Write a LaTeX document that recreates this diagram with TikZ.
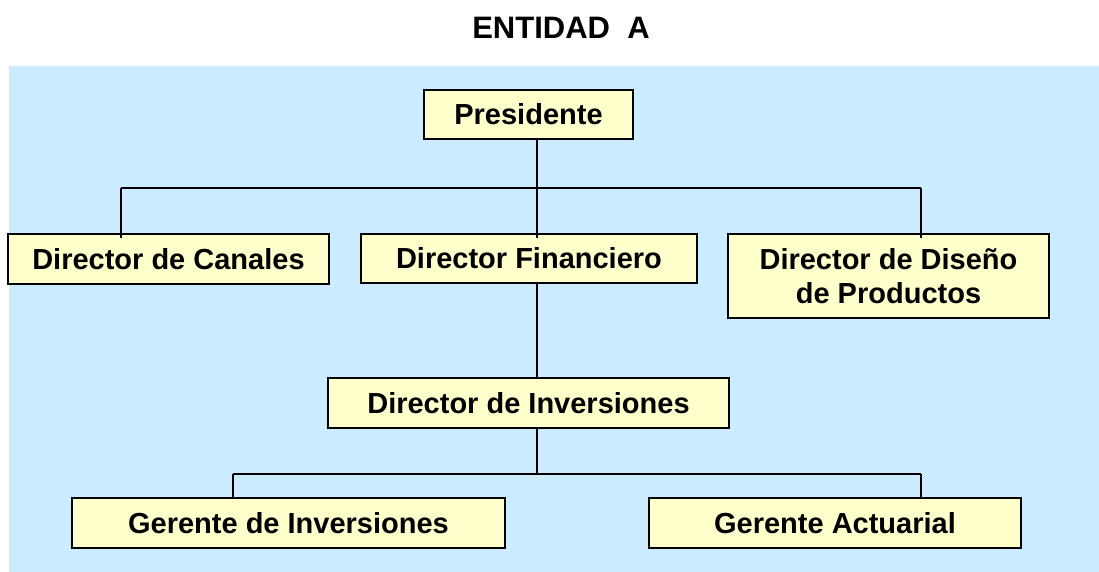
\documentclass[tikz,border=0pt]{standalone}
\usepackage{fontspec}
\setmainfont{Liberation Sans}
\definecolor{bgblue}{RGB}{204,235,255}
\definecolor{boxyellow}{RGB}{255,255,204}
\begin{document}
\begin{tikzpicture}[x=1pt,y=-1pt,
  orgbox/.style={draw=black, line width=2pt, fill=boxyellow, inner sep=0pt,
    align=center, font=\fontsize{29}{34}\selectfont\bfseries},
  conn/.style={draw=black, line width=1.8pt}]
\useasboundingbox (0,0) rectangle (1099,572);
\fill[bgblue] (9,66) rectangle (1099,572);
\node[anchor=base, font=\fontsize{31}{36}\selectfont\bfseries] (title) at (561,39) {ENTIDAD\ \ A};

\node[orgbox, minimum width=209pt, minimum height=49pt] (pres) at (528.5,114.5) {Presidente};
\node[orgbox, minimum width=321pt, minimum height=50pt] (can) at (168.5,259) {Director de Canales};
\node[orgbox, minimum width=336pt, minimum height=49pt] (fin) at (529,258.5) {Director Financiero};
\node[orgbox, minimum width=321pt, minimum height=84pt] (dis) at (888.5,276) {Director de Diseño\\de Productos};
\node[orgbox, minimum width=401pt, minimum height=50pt] (inv) at (528.5,403) {Director de Inversiones};
\node[orgbox, minimum width=433pt, minimum height=50pt] (ginv) at (288.5,523) {Gerente de Inversiones};
\node[orgbox, minimum width=372pt, minimum height=50pt] (gact) at (835,523) {Gerente Actuarial};

\coordinate (jA) at (537,188);
\coordinate (jL) at (121,188);
\coordinate (jR) at (921,188);
\coordinate (kA) at (537,474);
\coordinate (kL) at (233,474);
\coordinate (kR) at (921,474);

\draw[conn] (pres.south -| jA) -- (jA);
\draw[conn] (jL) -- (jR);
\draw[conn] (jL) -- ([yshift=-5pt]jL |- can.north);
\draw[conn] (jA) -- ([yshift=-5pt]jA |- fin.north);
\draw[conn] (jR) -- ([yshift=-5pt]jR |- dis.north);

\draw[conn] (fin.south -| jA) -- (inv.north -| jA);
\draw[conn] (inv.south -| kA) -- (kA);
\draw[conn] (kL) -- (kR);
\draw[conn] (kL) -- (kL |- ginv.north);
\draw[conn] (kR) -- (kR |- gact.north);
\end{tikzpicture}
\end{document}
